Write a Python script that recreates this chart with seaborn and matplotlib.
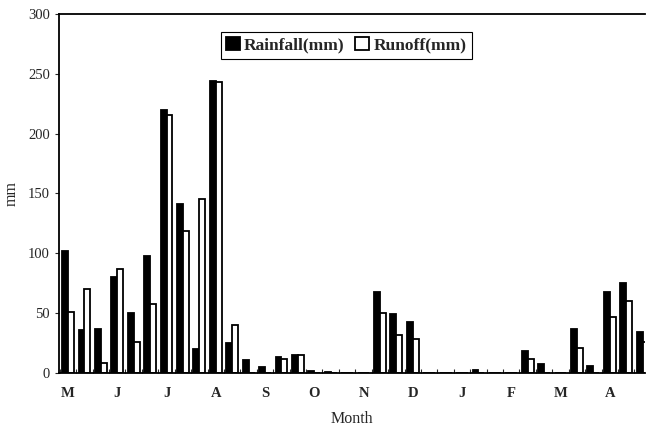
import matplotlib
matplotlib.use("Agg")
import matplotlib.pyplot as plt
from matplotlib.ticker import FixedLocator
import seaborn as sns
import numpy as np
import pandas as pd

# 36 ten-day periods, May to April
months = ["M", "J", "J", "A", "S", "O", "N", "D", "J", "F", "M", "A"]
rainfall = [102, 36, 37, 80, 50, 98, 220, 141, 20, 244, 25, 11,
            5, 13, 15, 2, 0.5, 0, 0, 68, 49, 43, 0, 0,
            0, 2.5, 0, 0, 18, 7.5, 0, 37, 6, 68, 75, 34]
runoff = [51, 70, 8, 87, 26, 58, 216, 119, 145, 243, 40, 0,
          0, 12, 15, 0, 0, 0, 0, 50, 32, 28.5, 0, 0,
          0, 0, 0, 0, 12, 0, 0, 21, 0, 47, 60, 26]

periodos = list(range(len(rainfall)))
df = pd.DataFrame({
    "periodo": periodos * 2,
    "valor": rainfall + runoff,
    "serie": ["Rainfall(mm)"] * len(rainfall) + ["Runoff(mm)"] * len(runoff),
})

sns.set_style("ticks")
plt.rcParams['font.family'] = ['Liberation Serif', 'DejaVu Serif']

fig = plt.figure(figsize=(6.47, 4.34), dpi=100)
ax = fig.add_axes([0.0912, 0.1406, 0.9058, 0.8271])

sns.barplot(data=df, x="periodo", y="valor", hue="serie",
            palette={"Rainfall(mm)": "black", "Runoff(mm)": "white"},
            edgecolor="black", linewidth=1.3, width=0.72, ax=ax)

ax.set_ylim(0, 300)
ax.set_yticks(np.arange(0, 301, 50))
ax.set_xlim(-0.55, 35.15)

# etiquetas de mes en el primer periodo de cada mes
ax.set_xticks(np.arange(0, 36, 3))
ax.set_xticklabels(months, fontsize=10.5, fontweight="bold")
ax.xaxis.set_minor_locator(FixedLocator(np.arange(-0.5, 36, 1)))
ax.tick_params(axis="x", which="major", length=0, pad=10)
ax.tick_params(axis="x", which="minor", direction="in", length=3, width=0.8)
ax.tick_params(axis="y", labelsize=10.5, length=3, width=0.8)

ax.set_xlabel("Month", fontsize=11.5, labelpad=8)
ax.set_ylabel("mm", fontsize=11.5, labelpad=6)

for s in ["left", "bottom", "top"]:
    ax.spines[s].set_linewidth(1.3)
    ax.spines[s].set_color("black")
ax.spines["right"].set_visible(False)

leg = ax.legend(loc="upper center", bbox_to_anchor=(0.49, 0.975), ncol=2,
                frameon=True, fancybox=False, edgecolor="black", framealpha=1,
                handlelength=0.8, handleheight=0.8, handletextpad=0.25,
                columnspacing=0.6, borderpad=0.3,
                prop={"weight": "bold", "size": 12.5})
leg.get_frame().set_linewidth(0.8)

fig.savefig("out.png", dpi=100)
